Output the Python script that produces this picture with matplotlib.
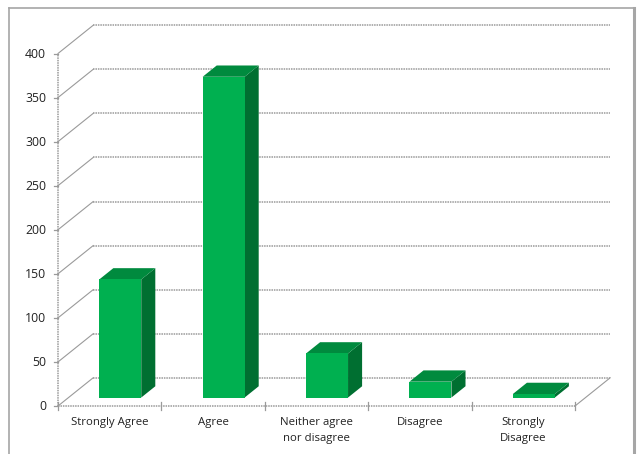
import matplotlib
matplotlib.use('Agg')
import matplotlib.pyplot as plt
from matplotlib.lines import Line2D

plt.rcParams['font.family'] = ['Open Sans', 'DejaVu Sans']

categories = ['Strongly Agree', 'Agree', 'Neither agree\nnor disagree',
              'Disagree', 'Strongly\nDisagree']
values = [134, 364, 50, 18, 4]
y_ticks = [0, 50, 100, 150, 200, 250, 300, 350, 400]

WIDTH, HEIGHT = 639, 454
# offset of the back wall, in axis units
DEPTH_X = 0.34
DEPTH_Y = 32
BAR_WIDTH = 0.406
BAR_START = 0.3
BAR_DEPTH = 0.4

FRONT = '#00B050'
TOP = '#008A3E'
SIDE = '#006F31'
GRID = '#9A9A9A'
FRAME = '#A6A6A6'


def proj(x, y, depth):
    return x + depth * DEPTH_X, y + depth * DEPTH_Y


def face(ax, corners, color, z):
    xs = [proj(*c)[0] for c in corners]
    ys = [proj(*c)[1] for c in corners]
    ax.fill(xs, ys, color=color, lw=0, zorder=z, clip_on=False)


def line(ax, a, b, **kw):
    pa, pb = proj(*a), proj(*b)
    ax.plot([pa[0], pb[0]], [pa[1], pb[1]], clip_on=False, **kw)


def draw_bar(ax, i, value):
    x0 = i + 0.5 - BAR_WIDTH / 2
    x1 = i + 0.5 + BAR_WIDTH / 2
    d0 = BAR_START
    d1 = BAR_START + BAR_DEPTH
    face(ax, [(x1, 0, d0), (x1, value, d0), (x1, value, d1), (x1, 0, d1)], SIDE, 5)
    face(ax, [(x0, value, d0), (x1, value, d0), (x1, value, d1), (x0, value, d1)], TOP, 5)
    face(ax, [(x0, 0, d0), (x1, 0, d0), (x1, value, d0), (x0, value, d0)], FRONT, 6)


def main():
    fig = plt.figure(figsize=(WIDTH / 100, HEIGHT / 100), dpi=100)
    ax = fig.add_axes([58 / WIDTH, (HEIGHT - 406) / HEIGHT,
                       (575 - 58) / WIDTH, (406 - 53.5) / HEIGHT])
    ax.set_xlim(0, len(categories))
    ax.set_ylim(0, 400)
    ax.axis('off')

    dotted = dict(color=GRID, lw=1.1, ls=(0, (1, 0.6)), zorder=1)
    n = len(categories)

    # walls: gridlines on the back, diagonals on the left side
    for v in y_ticks:
        line(ax, (0, v, 1), (n, v, 1), **dotted)
        line(ax, (0, v, 0), (0, v, 1), color=GRID, lw=0.8, zorder=1)
        ax.plot([-0.035, 0], [v, v], color=GRID, lw=0.9, zorder=2, clip_on=False)
        ax.text(-0.115, v - 1, str(v), ha='right', va='center',
                fontsize=8.8, color='#222222')

    # floor and axes
    line(ax, (0, 0, 0), (0, 400, 0), **dotted)
    line(ax, (0, 0, 0), (n, 0, 0), **dotted)
    line(ax, (n, 0, 0), (n, 0, 1), color=GRID, lw=0.8, zorder=1)
    for i in range(n + 1):
        ax.plot([i, i], [-4, 4], color=GRID, lw=0.9, zorder=2, clip_on=False)

    for i, (name, value) in enumerate(zip(categories, values)):
        draw_bar(ax, i, value)
        ax.text(i + 0.5, -12.5, name, ha='center', va='top', fontsize=8.2,
                color='#222222', linespacing=1.6)

    # outer chart frame, open at the bottom
    def frame_line(x0, y0, x1, y1, lw):
        fig.add_artist(Line2D([x0 / WIDTH, x1 / WIDTH],
                              [1 - y0 / HEIGHT, 1 - y1 / HEIGHT],
                              color=FRAME, lw=lw))

    frame_line(9, 8, 9, 454, 1.2)
    frame_line(9, 8, 634, 8, 1.2)
    frame_line(634, 8, 634, 454, 2.2)

    fig.savefig('out.png', dpi=100, facecolor='white')


if __name__ == '__main__':
    main()
